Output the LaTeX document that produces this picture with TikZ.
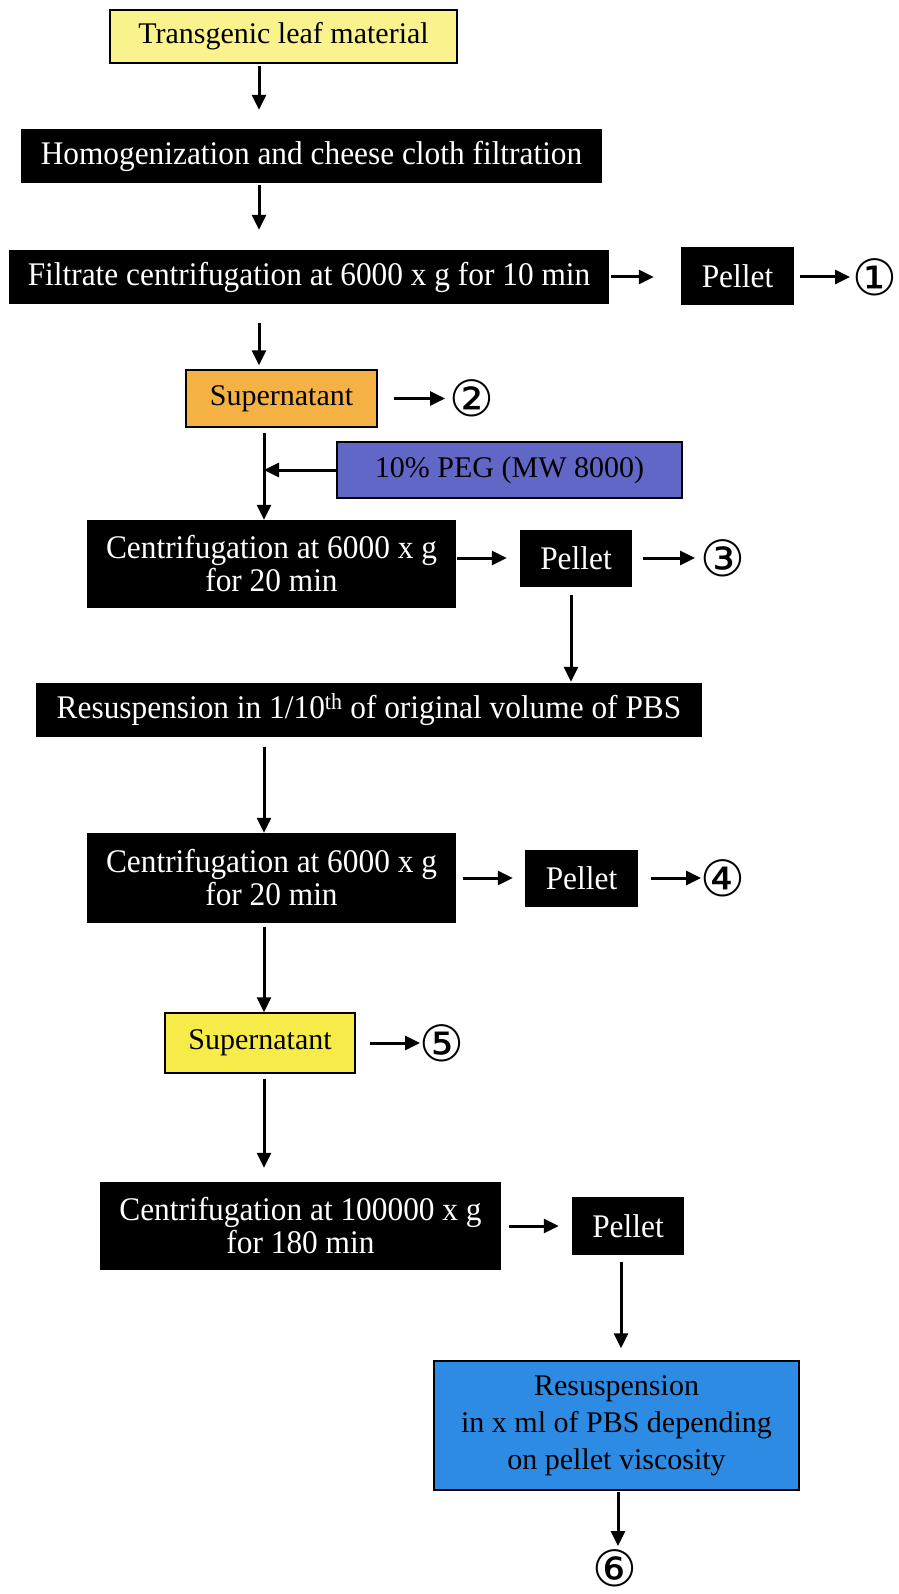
\documentclass[tikz,border=0pt]{standalone}
\usepackage{fontspec}
\setmainfont{Liberation Serif}
\newfontfamily\wfont[FakeStretch=0.95]{Liberation Serif}
\newfontfamily\symfont{DejaVu Sans}
\usetikzlibrary{arrows.meta}
\definecolor{lyellow}{HTML}{FAF28C}
\definecolor{orangebox}{HTML}{F4B244}
\definecolor{pegblue}{HTML}{6167C6}
\definecolor{yellowbox}{HTML}{F6EB48}
\definecolor{bluebox}{HTML}{2E8BE3}
\tikzset{
  colbox/.style={draw=black, line width=1.5pt, font=\fontsize{30}{37}\selectfont, text=black, align=center, inner sep=0pt},
  blkbox/.style={fill=black, draw=none, text=white, font=\wfont\fontsize{33}{33}\selectfont, align=center, inner sep=0pt},
  arr/.style={line width=3pt, -{Triangle[length=15pt,width=14pt]}},
  num/.style={font=\symfont\fontsize{50}{50}\selectfont, inner sep=0pt},
}
\begin{document}
\begin{tikzpicture}[x=1pt,y=-1pt]
\useasboundingbox (0,0) rectangle (898,1594);
% spine coordinates
\coordinate (sA) at (259,0);
\coordinate (sB) at (264,0);
\coordinate (sC) at (621,0);
\coordinate (sD) at (618,0);
\coordinate (sE) at (571,0);
% nodes
\node[colbox, fill=lyellow, minimum width=347pt, minimum height=53pt] (trans) at (283.5,36.5) {Transgenic leaf material};
\node[blkbox, minimum width=581pt, minimum height=54pt] (homog) at (311.5,156) {Homogenization and cheese cloth filtration};
\node[blkbox, minimum width=600pt, minimum height=54pt] (filt) at (309,277) {Filtrate centrifugation at 6000 x g for 10 min};
\node[blkbox, minimum width=113pt, minimum height=58pt] (pel1) at (737.5,276) {Pellet};
\node[num] (c1) at (875,277) {①};
\node[colbox, fill=orangebox, minimum width=191pt, minimum height=57pt] (sup1) at (281.5,398.5) {Supernatant};
\node[num] (c2) at (472,398.5) {②};
\node[colbox, fill=pegblue, minimum width=345pt, minimum height=56pt] (peg) at (509.5,470) {10\% PEG (MW 8000)};
\node[blkbox, minimum width=369pt, minimum height=88pt] (cent1) at (271.5,564) {Centrifugation at 6000 x g\\for 20 min};
\node[blkbox, minimum width=112pt, minimum height=57pt] (pel3) at (576,558) {Pellet};
\node[num] (c3) at (723,558) {③};
\node[blkbox, minimum width=666pt, minimum height=54pt] (resus) at (369,710) {Resuspension in 1/10\textsuperscript{th} of original volume of PBS};
\node[blkbox, minimum width=369pt, minimum height=90pt] (cent2) at (271.5,878) {Centrifugation at 6000 x g\\for 20 min};
\node[blkbox, minimum width=113pt, minimum height=57pt] (pel4) at (581.5,878) {Pellet};
\node[num] (c4) at (723,878) {④};
\node[colbox, fill=yellowbox, minimum width=190pt, minimum height=60pt] (sup2) at (260,1043) {Supernatant};
\node[num] (c5) at (442,1043) {⑤};
\node[blkbox, minimum width=401pt, minimum height=88pt] (cent3) at (300.5,1226) {Centrifugation at 100000 x g\\for 180 min};
\node[blkbox, minimum width=112pt, minimum height=58pt] (pel5) at (628,1226) {Pellet};
\node[colbox, fill=bluebox, minimum width=365pt, minimum height=129pt] (blue) at (616.5,1425.5) {Resuspension\\in x ml of PBS depending\\on pellet viscosity};
\node[num] (c6) at (615,1568) {⑥};
% connectors
\draw[arr, shorten <=2pt, shorten >=19pt] (trans.south -| sA) -- (homog.north -| sA);
\draw[arr, shorten <=2pt, shorten >=20pt] (homog.south -| sA) -- (filt.north -| sA);
\draw[arr, shorten <=2pt, shorten >=27pt] (filt.east) -- (filt.east -| pel1.west);
\draw[arr, shorten <=6pt, shorten >=25pt] (pel1.east |- c1.center) -- (c1.center);
\draw[arr, shorten <=19pt, shorten >=4pt] (filt.south -| sA) -- (sup1.north -| sA);
\draw[arr, shorten <=16pt, shorten >=27pt] (sup1.east) -- (c2.center);
\draw[arr, shorten <=5pt] (sup1.south -| sB) -- (cent1.north -| sB);
\draw[arr] (peg.west) -- (peg.west -| sB);
\draw[arr, shorten <=1pt, shorten >=13pt] (pel3.west -| cent1.east) -- (pel3.west);
\draw[arr, shorten <=11pt, shorten >=28pt] (pel3.east) -- (c3.center);
\draw[arr, shorten <=8pt, shorten >=1pt] (pel3.south -| sE) -- (resus.north -| sE);
\draw[arr, shorten <=10pt] (resus.south -| sB) -- (cent2.north -| sB);
\draw[arr, shorten <=7pt, shorten >=12pt] (pel4.west -| cent2.east) -- (pel4.west);
\draw[arr, shorten <=13pt, shorten >=22pt] (pel4.east) -- (c4.center);
\draw[arr, shorten <=4pt] (cent2.south -| sB) -- (sup2.north -| sB);
\draw[arr, shorten <=14pt, shorten >=22pt] (sup2.east) -- (c5.center);
\draw[arr, shorten <=5pt, shorten >=14pt] (sup2.south -| sB) -- (cent3.north -| sB);
\draw[arr, shorten <=8pt, shorten >=13pt] (pel5.west -| cent3.east) -- (pel5.west);
\draw[arr, shorten <=7pt, shorten >=12pt] (pel5.south -| sC) -- (blue.north -| sC);
\draw[arr, shorten <=1pt, shorten >=22pt] (blue.south -| sD) -- (sD |- c6.center);
\end{tikzpicture}
\end{document}
